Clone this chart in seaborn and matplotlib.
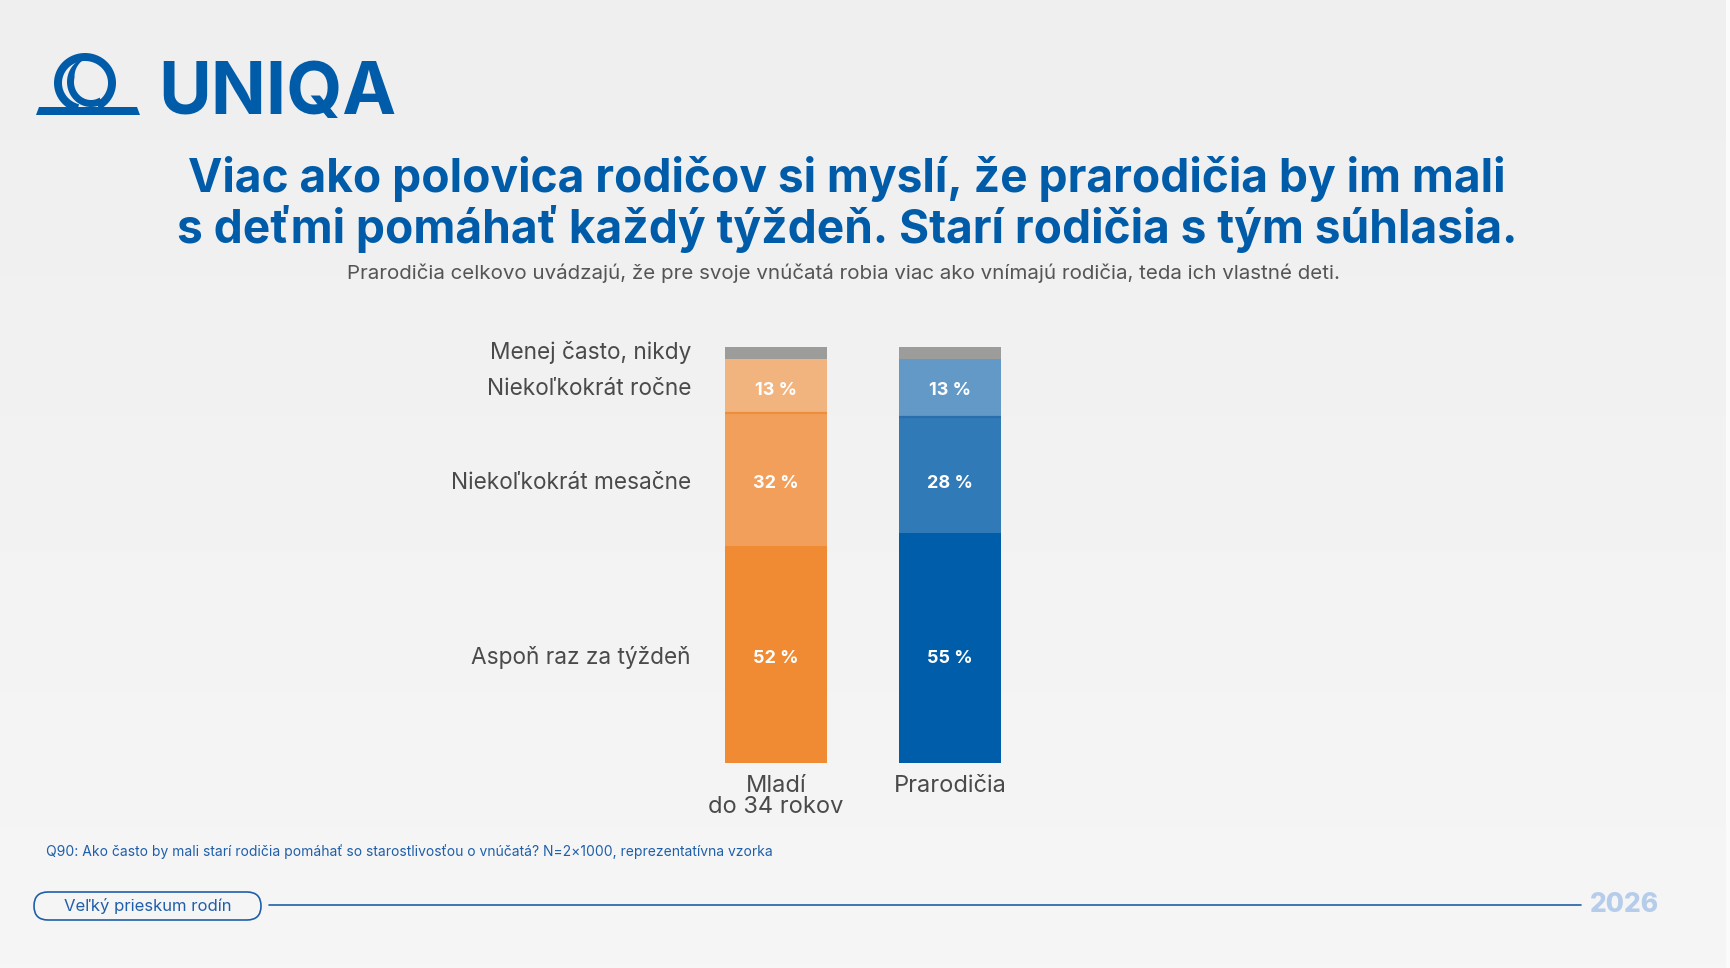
import numpy as np
import pandas as pd
import seaborn as sns
import matplotlib.pyplot as plt
from matplotlib.patches import FancyBboxPatch, Polygon, Rectangle

# data (segment heights, labels as printed)
groups = ["Mladí\ndo 34 rokov", "Prarodičia"]
categories = ["Aspoň raz za týždeň", "Niekoľkokrát mesačne", "Niekoľkokrát ročne", "Menej často, nikdy"]
mladi = [52.1, 32.0, 13.0, 2.9]
prarodicia = [55.3, 27.9, 13.9, 2.9]
mladi_labels = ["52 %", "32 %", "13 %", ""]
prarodicia_labels = ["55 %", "28 %", "13 %", ""]

orange = ["#F08A33", "#F19F5A", "#F1B47F", "#9C9C9A"]
blue = ["#005DAA", "#307AB8", "#6299C7", "#9C9C9A"]

title_lines = ["Viac ako polovica rodičov si myslí, že prarodičia by im mali",
               "s deťmi pomáhať každý týždeň. Starí rodičia s tým súhlasia."]
subtitle = "Prarodičia celkovo uvádzajú, že pre svoje vnúčatá robia viac ako vnímajú rodičia, teda ich vlastné deti."
footnote = "Q90: Ako často by mali starí rodičia pomáhať so starostlivosťou o vnúčatá? N=2×1000, reprezentatívna vzorka"
badge = "Veľký prieskum rodín"
year = "2026"

sns.set_theme(style="white")
plt.rcParams['font.family'] = ['Inter', 'DejaVu Sans']

W, H = 1731, 968
fig = plt.figure(figsize=(W / 100, H / 100), dpi=100)

# background gradient
bg = fig.add_axes([0, 0, 1, 1], zorder=0)
grad = np.linspace(0, 1, 256).reshape(-1, 1)
bg.imshow(grad, aspect="auto", cmap=sns.blend_palette(["#EFEFEF", "#F6F6F6"], as_cmap=True),
          extent=[0, 1, 0, 1], origin="upper")
bg.set_axis_off()

# chart axes (pixel frame: bars from x=725 to 1001, y=347 to 763)
bar_w = 0.586
x0, x1, ytop, ybot = 725, 1001, 347, 763
ax = fig.add_axes([x0 / W, 1 - ybot / H, (x1 - x0) / W, (ybot - ytop) / H], zorder=2)
ax.patch.set_alpha(0)

cum_m = np.cumsum(mladi)
cum_p = np.cumsum(prarodicia)
for i in range(len(categories) - 1, -1, -1):
    df = pd.DataFrame({"group": groups, "value": [cum_m[i], cum_p[i]]})
    sns.barplot(data=df, x="group", y="value", hue="group", palette=[orange[i], blue[i]],
                width=bar_w, saturation=1, legend=False, ax=ax, linewidth=0)

# thin boundary lines on top of the middle segments
ax.hlines(cum_m[1], -bar_w / 2, bar_w / 2, color="#EE8D3C", lw=1.6, zorder=5)
ax.hlines(cum_p[1], 1 - bar_w / 2, 1 + bar_w / 2, color="#2A6EAE", lw=1.6, zorder=5)

ax.set_xlim(-0.5 * bar_w, 1 + 0.5 * bar_w)
ax.set_ylim(0, sum(mladi))

# rows: category labels and value labels share the same height
row_y = cum_m - np.array(mladi) / 2
for j, labels in enumerate([mladi_labels, prarodicia_labels]):
    for i, lab in enumerate(labels):
        if lab:
            ax.text(j, row_y[i] - 1.0, lab, ha="center", va="center",
                    color="white", fontsize=13, fontweight="bold", zorder=6)

label_x = -bar_w / 2 - (x0 - 691) / 174
for i, c in enumerate(categories):
    dy = 0.2 if i == 3 else -0.8
    ax.text(label_x, row_y[i] + dy, c, ha="right", va="center",
            color="#4A4A4A", fontsize=16.3, clip_on=False)

ax.set_xlabel("")
ax.set_ylabel("")
ax.set_yticks([])
ax.tick_params(axis="x", length=0, pad=8.5, labelsize=17, labelcolor="#4A4A4A")
for lbl in ax.get_xticklabels():
    lbl.set_linespacing(0.95)
sns.despine(ax=ax, left=True, bottom=True)

# overlay in pixel coordinates
ov = fig.add_axes([0, 0, 1, 1], zorder=3)
ov.set_xlim(0, W)
ov.set_ylim(H, 0)
ov.set_axis_off()
ov.patch.set_alpha(0)

brand = "#005CA9"


def ring(cx, cy, rx, ry, t, a0, a1, ramp=0, n=120):
    a = np.linspace(a0, a1, n)
    th = t * np.clip((a - a0) / ramp, 0.05, 1) if ramp else np.full(n, t)
    r = np.radians(a)
    outer = np.c_[cx + rx * np.cos(r), cy - ry * np.sin(r)]
    inner = np.c_[cx + (rx - th) * np.cos(r), cy - (ry - th) * np.sin(r)]
    return np.vstack([outer, inner[::-1]])


# logo emblem
ov.add_patch(Polygon([[36, 115], [39, 107], [137, 107], [140, 115]], closed=True, color=brand, lw=0))
ov.add_patch(Polygon(ring(85, 83, 31, 30, 8, -62, 255), closed=True, color=brand, lw=0))
ov.add_patch(Polygon(ring(91, 82, 24, 25, 7, 95, 300, ramp=70), closed=True, color=brand, lw=0))
ov.text(158, 95, "UNIQA", color=brand, fontsize=52, fontweight="bold", ha="left", va="center")

ov.text(847, 179, title_lines[0], color=brand, fontsize=33.2, fontweight="bold", ha="center", va="center")
ov.text(847, 229, title_lines[1], color=brand, fontsize=33.2, fontweight="bold", ha="center", va="center")
ov.text(844, 273, subtitle, color="#555555", fontsize=14.8, ha="center", va="center")

ov.text(46, 852, footnote, color="#1F5FAA", fontsize=10, ha="left", va="center")

ov.add_patch(FancyBboxPatch((34, 892), 227, 28, boxstyle="round,pad=0,rounding_size=14",
                            fc="none", ec="#1F5FAA", lw=1.2))
ov.text(148, 906, badge, color="#1F5FAA", fontsize=12, ha="center", va="center")
ov.plot([269, 1581], [905, 905], color="#1F5FAA", lw=1.2)
ov.text(1624, 905, year, color="#B5CCEB", fontsize=19, fontweight="heavy", ha="center", va="center")

ov.add_patch(Rectangle((1726, 0), 5, H, color="#FBFBFB", lw=0))

fig.savefig("out.png", dpi=100)
